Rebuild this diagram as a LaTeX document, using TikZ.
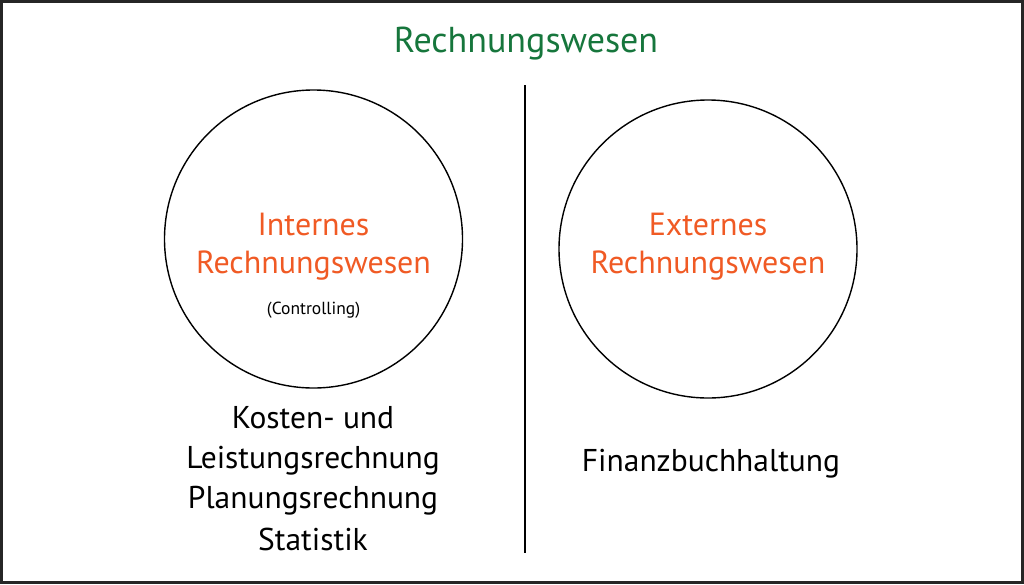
\documentclass[tikz,border=0pt]{standalone}
\usepackage{fontspec}
\setmainfont{PT Sans}
\usetikzlibrary{positioning}
\definecolor{titlegreen}{RGB}{22,118,60}
\definecolor{labelorange}{RGB}{240,90,36}
\tikzset{
    frame/.style={draw=black!85,line width=3pt},
    kreis/.style={circle,draw,line width=1.4pt,minimum size=298pt,inner sep=0pt},
    trenner/.style={line width=1.2pt},
    titel/.style={text=titlegreen,font=\fontsize{36}{43}\selectfont,anchor=base},
    bereich/.style={text=labelorange,font=\fontsize{32}{38}\selectfont,anchor=base},
    zusatz/.style={font=\fontsize{17.5}{21}\selectfont,anchor=base},
    aufgabe/.style={font=\fontsize{31.5}{38}\selectfont,anchor=base}
}

\begin{document}
\begin{tikzpicture}[x=1pt,y=-1pt]

                \useasboundingbox (0,0) rectangle (1024,584);
                \draw[frame] (1.5,1.5) rectangle (1022.5,582.5);

                \node[titel]  (title)     at (526,52)   {Rechnungswesen};

                \coordinate (line top)    at (525,85);
                \coordinate (line bottom) at (525,553);
                \draw[trenner] (line top) -- (line bottom);

                % linke Seite
                \node[kreis]   (intern)     at (313.5,239) {};
                \node[bereich] (intern 1)   at (313.5,235) {Internes};
                \node[bereich] (intern 2)   at (313.5,273) {Rechnungswesen};
                \node[zusatz]  (controlling) at (313.5,314) {(Controlling)};

                \node[aufgabe] (kosten)     at (313,428)   {Kosten- und};
                \node[aufgabe] (leistung)   at (313,468)   {Leistungsrechnung};
                \node[aufgabe] (planung)    at (313,508)   {Planungsrechnung};
                \node[aufgabe] (statistik)  at (313,550)   {Statistik};

                % rechte Seite
                \node[kreis]   (extern)     at (708,249)   {};
                \node[bereich] (extern 1)   at (708,235)   {Externes};
                \node[bereich] (extern 2)   at (708,273)   {Rechnungswesen};

                \node[aufgabe] (fibu)       at (711,471)   {Finanzbuchhaltung};

\end{tikzpicture}
\end{document}
